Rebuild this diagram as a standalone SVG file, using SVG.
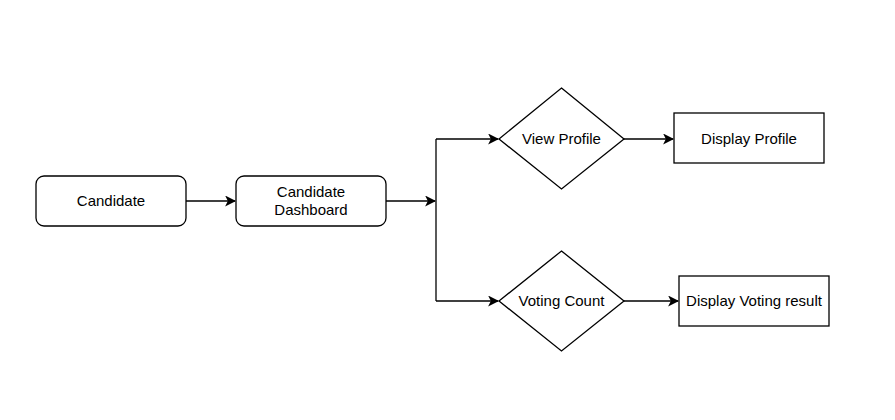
<svg xmlns="http://www.w3.org/2000/svg" width="895" height="420" viewBox="0 0 895 420">
<style>
.n{fill:#fff;stroke:#000;stroke-width:1.3}
.t{font-family:"Liberation Sans",Arial,sans-serif;font-size:15px;fill:#000;text-anchor:middle;dominant-baseline:central}
.c{fill:none;stroke:#000;stroke-width:1.3}
</style>
<defs>
<marker id="a" viewBox="0 0 10 10" refX="9" refY="5" markerWidth="11" markerHeight="11" markerUnits="userSpaceOnUse" orient="auto">
<path d="M0,0 L10,5 L0,10 L2.5,5 Z" fill="#000"/>
</marker>
</defs>
<rect width="895" height="420" fill="#fff"/>
<g id="connectors">
<path class="c" d="M186,201 H235" marker-end="url(#a)"/>
<path class="c" d="M386,201 H435" marker-end="url(#a)"/>
<path class="c" d="M436,139 V301"/>
<path class="c" d="M436,139 H498" marker-end="url(#a)"/>
<path class="c" d="M436,301 H498" marker-end="url(#a)"/>
<path class="c" d="M624,139 H673" marker-end="url(#a)"/>
<path class="c" d="M624,301 H678" marker-end="url(#a)"/>
</g>
<g id="candidate">
<rect class="n" x="36" y="176" width="150" height="50" rx="8"/>
<text class="t" x="111" y="200">Candidate</text>
</g>
<g id="dashboard">
<rect class="n" x="236" y="176" width="150" height="50" rx="8"/>
<text class="t" x="311" y="191">Candidate</text>
<text class="t" x="311" y="209">Dashboard</text>
</g>
<g id="viewProfile">
<polygon class="n" points="561.5,88 624,139 561.5,189 499,139"/>
<text class="t" x="561.5" y="138">View Profile</text>
</g>
<g id="votingCount">
<polygon class="n" points="561.5,251 624,301 561.5,351 499,301"/>
<text class="t" x="561.5" y="300">Voting Count</text>
</g>
<g id="displayProfile">
<rect class="n" x="674" y="113" width="150" height="50"/>
<text class="t" x="749" y="138">Display Profile</text>
</g>
<g id="displayVoting">
<rect class="n" x="679" y="276" width="150" height="50"/>
<text class="t" x="754" y="300">Display Voting result</text>
</g>
</svg>
